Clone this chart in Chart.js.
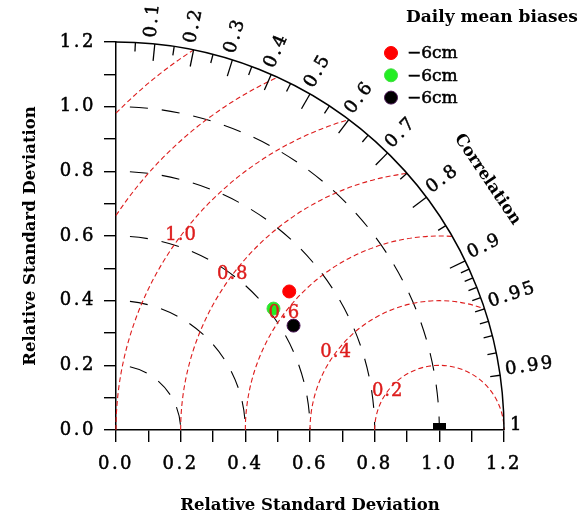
<!DOCTYPE html>
<html>
<head>
<meta charset="utf-8">
<script src="https://cdn.jsdelivr.net/npm/chart.js@4.4.0/dist/chart.umd.min.js"></script>
<style>
  html, body { margin: 0; padding: 0; background: #fff; }
  canvas { display: block; }
</style>
</head>
<body>
<canvas id="taylor" width="579" height="517"></canvas>
<script>
// values
const seriesLabels = ["\u22126cm", "\u22126cm", "\u22126cm"];
const seriesColors = ["#ff0000", "#22ee22", "#000000"];
const seriesBorders = ["#ff0000", "#44dd44", "#4a1656"];
const stdRatio = [0.686, 0.615, 0.637];
const correlation = [0.781, 0.792, 0.862];
const refPoint = { std: 1.0, corr: 1.0 };

const stdArcs = [0.2, 0.4, 0.6, 0.8, 1.0];
const rmsArcs = [0.2, 0.4, 0.6, 0.8, 1.0, 1.2, 1.4];
const rmsLabelled = [0.2, 0.4, 0.6, 0.8, 1.0];
const corrMajor = [0.1, 0.2, 0.3, 0.4, 0.5, 0.6, 0.7, 0.8, 0.9];
const corrMid = [0.95, 0.99];
const corrMinor = [0.05, 0.15, 0.25, 0.35, 0.45, 0.55, 0.65, 0.75, 0.85,
  0.91, 0.92, 0.93, 0.94, 0.96, 0.97, 0.98];
const corrLabels = [0.1, 0.2, 0.3, 0.4, 0.5, 0.6, 0.7, 0.8, 0.9, 0.95, 0.99, 1];

const FONT = '"DejaVu Serif", serif';
const RED = "#dd1c1c";
const SPACING = '2.5px';

function toXY(r, c) {
  return { x: r * c, y: r * Math.sqrt(Math.max(0, 1 - c * c)) };
}

// reference mark: small black bar sitting on the x axis
const refMark = document.createElement('canvas');
refMark.width = 13;
refMark.height = 14;
const rc = refMark.getContext('2d');
rc.fillStyle = '#000';
rc.fillRect(0, 0, 13, 7);

const datasets = stdRatio.map((r, i) => ({
  label: seriesLabels[i],
  data: [toXY(r, correlation[i])],
  backgroundColor: seriesColors[i],
  borderColor: seriesBorders[i],
  borderWidth: 1,
  pointRadius: 6.5,
  clip: false
}));
datasets.push({
  label: 'ref',
  data: [toXY(refPoint.std, refPoint.corr)],
  pointStyle: refMark,
  clip: false
});

function corrLabel(c) {
  if (c === 1) return '1';
  if (c === 0.95 || c === 0.99) return c.toFixed(2);
  return c.toFixed(1);
}

// filled text with a hair of stroke to thicken it a little
function heavyText(ctx, txt, x, y, w) {
  ctx.lineWidth = w;
  ctx.strokeStyle = ctx.fillStyle;
  ctx.strokeText(txt, x, y);
  ctx.fillText(txt, x, y);
}

const taylorPlugin = {
  id: 'taylor',
  beforeDatasetsDraw(chart) {
    const ctx = chart.ctx;
    const xs = chart.scales.x, ys = chart.scales.y;
    const ox = xs.getPixelForValue(0), oy = ys.getPixelForValue(0);
    const unit = xs.getPixelForValue(1) - ox;
    const R = 1.2 * unit;

    ctx.save();
    // std dev arcs (black, long dashes)
    ctx.strokeStyle = '#000';
    ctx.lineWidth = 1.1;
    ctx.setLineDash([18, 14]);
    ctx.lineDashOffset = 18;
    stdArcs.forEach(s => {
      ctx.beginPath();
      ctx.arc(ox, oy, s * unit, -Math.PI / 2, 0);
      ctx.stroke();
    });

    // centred RMS difference arcs (red, short dashes)
    ctx.strokeStyle = RED;
    ctx.setLineDash([5, 3]);
    ctx.lineDashOffset = 0;
    const cx = xs.getPixelForValue(1);
    rmsArcs.forEach(r => {
      let aMin = Math.acos(Math.min(1, Math.max(-1, (0.44 - r * r) / (2 * r))));
      let aMax = r <= 1 ? Math.PI : Math.acos(-1 / r);
      ctx.beginPath();
      ctx.arc(cx, oy, r * unit, -aMax, -aMin);
      ctx.stroke();
    });

    // outer correlation arc
    ctx.setLineDash([]);
    ctx.strokeStyle = '#000';
    ctx.lineWidth = 1.5;
    ctx.beginPath();
    ctx.arc(ox, oy, R, -Math.PI / 2, 0);
    ctx.stroke();

    const tick = (c, len) => {
      const t = Math.acos(c);
      ctx.beginPath();
      ctx.moveTo(ox + R * Math.cos(t), oy - R * Math.sin(t));
      ctx.lineTo(ox + (R - len) * Math.cos(t), oy - (R - len) * Math.sin(t));
      ctx.stroke();
    };
    ctx.lineWidth = 1.3;
    corrMajor.forEach(c => tick(c, 17));
    corrMid.forEach(c => tick(c, 10));
    corrMinor.forEach(c => tick(c, 9));

    // correlation labels
    ctx.fillStyle = '#000';
    ctx.font = '18px ' + FONT;
    ctx.letterSpacing = SPACING;
    ctx.textAlign = 'left';
    ctx.textBaseline = 'alphabetic';
    corrLabels.forEach(c => {
      const t = Math.acos(c);
      ctx.save();
      ctx.translate(ox + (R + 6) * Math.cos(t), oy - (R + 6) * Math.sin(t));
      ctx.rotate(-t);
      heavyText(ctx, corrLabel(c), 0, 0, 0.5);
      ctx.restore();
    });
    ctx.letterSpacing = '0px';

    // "Correlation" title along the arc
    const phi = 34 * Math.PI / 180;
    ctx.save();
    ctx.translate(ox + (R + 60) * Math.cos(phi), oy - (R + 60) * Math.sin(phi));
    ctx.rotate(Math.PI / 2 - phi);
    ctx.font = 'bold 16.5px ' + FONT;
    ctx.textAlign = 'center';
    ctx.textBaseline = 'middle';
    ctx.fillText('Correlation', 0, 0);
    ctx.restore();

    // legend
    ctx.font = 'bold 17px ' + FONT;
    ctx.textAlign = 'left';
    ctx.textBaseline = 'middle';
    ctx.fillText('Daily mean biases', 406, 18);
    ctx.font = '17px ' + FONT;
    seriesLabels.forEach((lab, i) => {
      const y = 53 + i * 22.3;
      ctx.beginPath();
      ctx.arc(391, y, 6.5, 0, Math.PI * 2);
      ctx.fillStyle = seriesColors[i];
      ctx.fill();
      ctx.lineWidth = 1;
      ctx.strokeStyle = seriesBorders[i];
      ctx.stroke();
      ctx.fillStyle = '#000';
      heavyText(ctx, lab, 407, y + 1, 0.5);
    });
    ctx.restore();
  },
  afterDatasetsDraw(chart) {
    const ctx = chart.ctx;
    const xs = chart.scales.x, ys = chart.scales.y;
    const unit = xs.getPixelForValue(1) - xs.getPixelForValue(0);
    const cx = xs.getPixelForValue(1), oy = ys.getPixelForValue(0);
    const a = 143 * Math.PI / 180;
    ctx.save();
    ctx.fillStyle = RED;
    ctx.font = '18px ' + FONT;
    ctx.letterSpacing = '1px';
    ctx.textAlign = 'center';
    ctx.textBaseline = 'middle';
    rmsLabelled.forEach(r => {
      heavyText(ctx, r.toFixed(1), cx + r * unit * Math.cos(a), oy - r * unit * Math.sin(a), 0.4);
    });
    ctx.restore();
    // tick labels (drawn next, z: 1) get the wide spacing
    ctx.letterSpacing = SPACING;
  },
  afterDraw(chart) {
    chart.ctx.letterSpacing = '0px';
  }
};

function fixPad(s) {
  s.paddingTop = 0; s.paddingBottom = 0; s.paddingLeft = 0; s.paddingRight = 0;
}

const axisCommon = {
  type: 'linear',
  min: 0,
  max: 1.2,
  ticks: {
    stepSize: 0.1,
    z: 1,
    color: '#000',
    textStrokeColor: '#000',
    textStrokeWidth: 0.5,
    font: { family: FONT, size: 18 },
    callback: v => (Math.round(v * 10) % 2 === 0 ? v.toFixed(1) : '')
  },
  grid: { drawOnChartArea: false, drawTicks: true, tickLength: 12, color: '#000', lineWidth: 1.4 },
  border: { display: true, color: '#000', width: 1.5 }
};

new Chart(document.getElementById('taylor'), {
  type: 'scatter',
  data: { datasets },
  options: {
    responsive: false,
    animation: false,
    events: [],
    layout: { padding: { left: 0, right: 75, top: 42, bottom: 0 } },
    plugins: { legend: { display: false }, tooltip: { enabled: false } },
    scales: {
      x: {
        ...axisCommon,
        position: 'bottom',
        ticks: { ...axisCommon.ticks, padding: 12, maxRotation: 0, autoSkip: false },
        title: { display: true, text: 'Relative Standard Deviation', color: '#000',
          font: { family: FONT, size: 16.5, weight: 'bold' }, padding: { top: 0, bottom: 1 } },
        afterFit(s) { s.height = 87; fixPad(s); }
      },
      y: {
        ...axisCommon,
        position: 'left',
        ticks: { ...axisCommon.ticks, padding: 8, autoSkip: false },
        title: { display: true, text: 'Relative Standard Deviation', color: '#000',
          font: { family: FONT, size: 16.5, weight: 'bold' }, padding: { top: 21, bottom: 0 } },
        afterFit(s) { s.width = 116; fixPad(s); }
      }
    }
  },
  plugins: [taylorPlugin]
});
</script>
</body>
</html>
